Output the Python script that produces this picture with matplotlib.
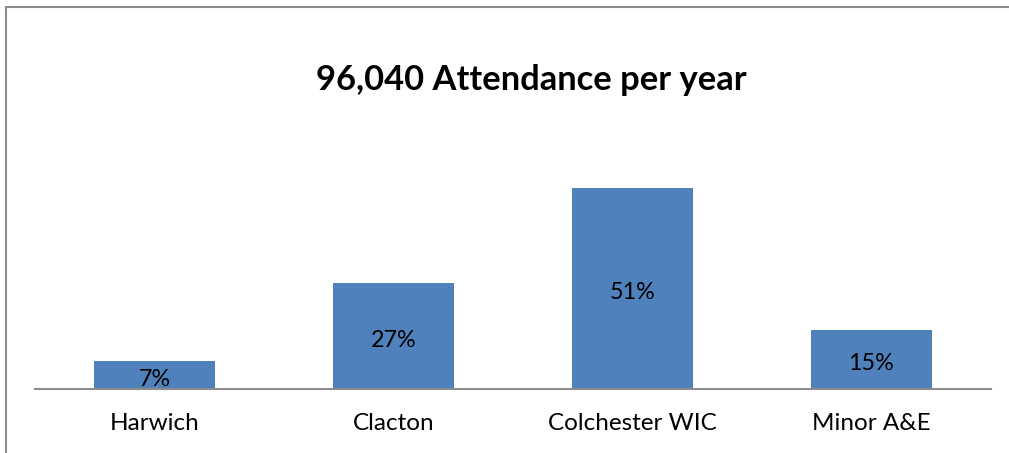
import matplotlib.pyplot as plt
from matplotlib.patches import Rectangle

sites = ['Harwich', 'Clacton', 'Colchester WIC', 'Minor A&E']
share = [7, 27, 51, 15]
title = '96,040 Attendance per year'

plt.rcParams['font.family'] = ['Lato', 'DejaVu Sans']

W, H = 1009, 453
fig = plt.figure(figsize=(W / 100, H / 100), dpi=100)

# outer chart border (extends past right/bottom edge like the screenshot crop)
fig.patches.append(Rectangle((6 / W, -0.1), 1.2, 1 - 7 / H + 0.1, transform=fig.transFigure,
                             fill=False, edgecolor='#8c8c8c', linewidth=1.5))

ax = fig.add_axes([35 / W, 1 - 389 / H, (991 - 35) / W, (389 - 120) / H])
x = range(len(sites))
bars = ax.bar(x, share, width=0.51, color='#4F81BD')
for b, v in zip(bars, share):
    ax.text(b.get_x() + b.get_width() / 2, v / 2 - 1.1, f'{v}%', ha='center', va='center',
            fontsize=16.8, color='black')

ax.set_xlim(-0.5, 3.5)
ax.set_ylim(0, 51 * 269 / 201)
ax.set_xticks(list(x))
ax.set_xticklabels(sites, fontsize=17.5)
ax.tick_params(axis='x', length=0, pad=17)
ax.set_yticks([])
for s in ['top', 'right', 'left']:
    ax.spines[s].set_visible(False)
ax.spines['bottom'].set_color('#8c8c8c')
ax.spines['bottom'].set_linewidth(1.5)

fig.text(531 / W, 1 - 80 / H, title, ha='center', va='center', fontsize=24.8, fontweight='bold')

fig.savefig('out.png', dpi=100)
